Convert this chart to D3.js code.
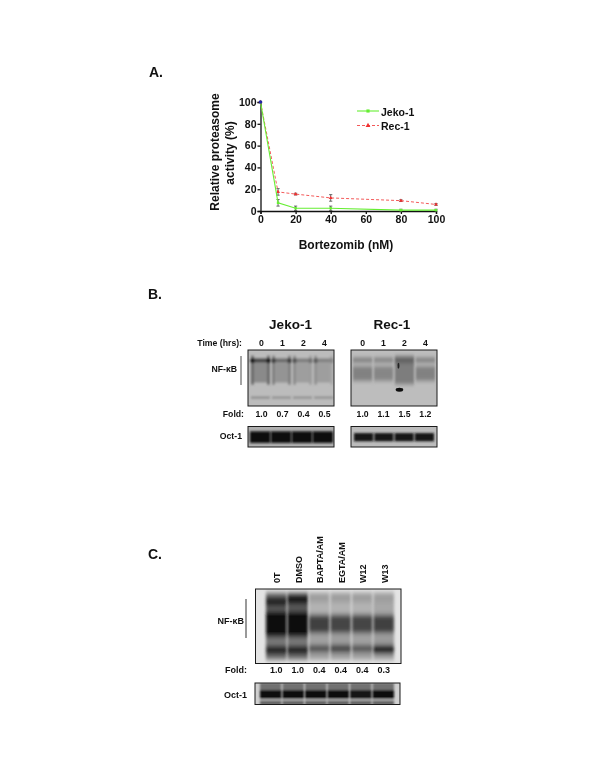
<!DOCTYPE html>
<html><head><meta charset="utf-8">
<script src="https://cdn.jsdelivr.net/npm/d3@7"></script>
<style>html,body{margin:0;background:#fff}svg{display:block;filter:blur(0.3px)}text{font-family:"Liberation Sans",Arial,sans-serif;font-weight:bold;fill:#111}</style>
</head><body><svg id="c" width="600" height="776"></svg>
<script>
// ---- Panel A data
const doses=[0,10,20,40,80,100];
const jeko=[100,7.5,2.5,2.5,0.8,0.8];
const jekoErr=[0,3,2,2,0.8,0.8];
const rec=[100,17.5,15.5,12,9.5,6];
const recErr=[0,3,0.8,3,0.8,0.8];
const xTicks=[0,20,40,60,80,100];
const yTicks=[0,20,40,60,80,100];
// ---- Blot labels
const timeLanes=["0","1","2","4"];
const foldJeko=["1.0","0.7","0.4","0.5"];
const foldRec=["1.0","1.1","1.5","1.2"];
const treatments=["0T","DMSO","BAPTA/AM","EGTA/AM","W12","W13"];
const foldC=["1.0","1.0","0.4","0.4","0.4","0.3"];
// ---- Bands per lane [position in blot 0-1, thickness 0-1, darkness 0-1]
const jekoBands=[
 [[.36,.44,.38],[.19,.06,.72],[.85,.04,.36]],
 [[.36,.44,.33],[.19,.05,.55],[.85,.04,.34]],
 [[.36,.44,.28],[.19,.05,.45],[.85,.04,.34]],
 [[.36,.44,.28],[.19,.05,.42],[.85,.04,.34]]];
const jekoEdges=[[.95,.95],[.75,.75],[.65,.5],[.6,.4]];
const recBands=[
 [[.42,.26,.42],[.18,.07,.5]],
 [[.42,.26,.4],[.18,.07,.48]],
 [[.36,.5,.44],[.18,.08,.62]],
 [[.42,.26,.42],[.18,.07,.5]]];
const octJeko=[1,1,1,1];
const octRec=[.95,.95,.95,.95];
const cBands=[
 [[.5,.9,.5],[.17,.13,.88],[.28,.07,.58],[.47,.34,1],[.71,.07,.45],[.82,.11,.92]],
 [[.5,.9,.5],[.14,.13,.94],[.25,.07,.62],[.47,.34,1],[.71,.07,.45],[.82,.11,.92]],
 [[.5,.9,.28],[.25,.14,.18],[.47,.24,.74],[.69,.09,.26],[.8,.09,.68]],
 [[.5,.9,.28],[.25,.14,.18],[.47,.24,.72],[.69,.09,.28],[.8,.1,.74]],
 [[.5,.9,.28],[.25,.14,.18],[.47,.24,.72],[.69,.09,.26],[.8,.09,.66]],
 [[.5,.9,.28],[.25,.14,.24],[.47,.24,.74],[.69,.09,.3],[.81,.11,1]]];
const octC=[1,1,.97,.97,.95,1];

const svg=d3.select("#c");
const defs=svg.append("defs");
[["f05","0.7"],["fJ","0.9 1.3"],["fR","1.1 2"],["fC","1.5 2.6"],["fO","1 1.2"],["fOC","0.8 0.9"]].forEach(([id,s])=>defs.append("filter").attr("id",id)
  .attr("filterUnits","userSpaceOnUse").attr("x",0).attr("y",0).attr("width",600).attr("height",776)
  .append("feGaussianBlur").attr("stdDeviation",s));
const ink=d=>d3.interpolateRgb("#d8d8d8","#0a0a0a")(d);
function label(x,y,t,size,anchor="middle",rot=0){
  const e=svg.append("text").attr("font-size",size).attr("text-anchor",anchor).text(t);
  return rot?e.attr("transform",`translate(${x},${y}) rotate(${rot})`):e.attr("x",x).attr("y",y);
}

// Panel A
label(149,77,"A.",14,"start");
const x=d3.scaleLinear().domain([0,100]).range([260.5,436]);
const y=d3.scaleLinear().domain([0,100]).range([211,102]);
const ax=svg.append("g").attr("transform","translate(0,211)").call(d3.axisBottom(x).tickValues(xTicks).tickSize(3).tickPadding(2));
const ay=svg.append("g").attr("transform","translate(260.5,0)").call(d3.axisLeft(y).tickValues(yTicks).tickSize(3).tickPadding(1));
[ax,ay].forEach(g=>{g.selectAll("path,line").attr("stroke","#111").attr("stroke-width",1.3);g.selectAll("text").attr("font-size",10.5);g.attr("font-family",null)});
label(219,152,"Relative proteasome",12,"middle",-90);
label(234,153,"activity (%)",12,"middle",-90);
label(346,249,"Bortezomib (nM)",12);
const line=d3.line().x((d,i)=>x(doses[i])).y(d=>y(d));
const series=[{v:rec,e:recErr,c:"#f03030",dash:"3,2"},{v:jeko,e:jekoErr,c:"#66ee33",dash:null}];
series.forEach(s=>{
  const g=svg.append("g");
  g.selectAll("path.err").data(s.v).join("path").attr("fill","none").attr("stroke","#444").attr("stroke-width",.8)
   .attr("d",(d,i)=>{const X=x(doses[i]),a=y(d-s.e[i]),b=y(d+s.e[i]);return s.e[i]?`M${X-1.6},${a}H${X+1.6}M${X-1.6},${b}H${X+1.6}M${X},${a}V${b}`:""});
  g.append("path").attr("d",line(s.v)).attr("fill","none").attr("stroke",s.c).attr("stroke-width",s.dash?.8:1.1).attr("stroke-dasharray",s.dash);
  const sym=d3.symbol().type(s.dash?d3.symbolTriangle:d3.symbolSquare).size(6);
  g.selectAll("path.m").data(s.v).join("path").attr("fill",s.c).attr("d",sym).attr("transform",(d,i)=>`translate(${x(doses[i])},${y(d)})`);
});
svg.append("circle").attr("cx",x(0)).attr("cy",y(100)).attr("r",1.8).attr("fill","#2222aa");
// legend
[[111,"Jeko-1",series[1]],[125.5,"Rec-1",series[0]]].forEach(([ly,t,s])=>{
  svg.append("line").attr("x1",357).attr("x2",379).attr("y1",ly).attr("y2",ly).attr("stroke",s.c).attr("stroke-width",s.dash?.8:1.1).attr("stroke-dasharray",s.dash);
  svg.append("path").attr("d",d3.symbol().type(s.dash?d3.symbolTriangle:d3.symbolSquare).size(10)()).attr("fill",s.c).attr("transform",`translate(368,${ly})`);
  label(381,ly+4.5,t,10.5,"start");
});

// Blot helper: all bands of a lane are composited, then the lane is blurred as one
let uid=0;
function blot(b){
  const id="clip"+(++uid);
  defs.append("clipPath").attr("id",id).append("rect").attr("x",b.x0).attr("y",b.y0).attr("width",b.x1-b.x0).attr("height",b.y1-b.y0);
  const yy=d3.scaleLinear().domain([0,1]).range([b.y0,b.y1]);
  const lane=d3.scaleBand().domain(d3.range(b.lanes.length)).range([b.lx0,b.lx1]).paddingInner(b.gap);
  const g=svg.append("g").attr("clip-path",`url(#${id})`);
  g.append("rect").attr("x",b.x0).attr("y",b.y0).attr("width",b.x1-b.x0).attr("height",b.y1-b.y0).attr("fill",b.bg);
  b.lanes.forEach((bands,i)=>{
    const lg=g.append("g").attr("filter",`url(#${b.blur})`);
    lg.selectAll("rect").data(bands).join("rect")
      .attr("x",lane(i)).attr("width",lane.bandwidth())
      .attr("y",d=>yy(d[0]-d[1]/2)).attr("height",d=>yy(d[1])-yy(0))
      .attr("fill",d=>ink(d[2]));
    if(b.laneExtra) b.laneExtra(lg,lane,yy,i);
  });
  if(b.extra) b.extra(g,lane,yy);
  svg.append("rect").attr("x",b.x0).attr("y",b.y0).attr("width",b.x1-b.x0).attr("height",b.y1-b.y0).attr("fill","none").attr("stroke","#1a1a1a").attr("stroke-width",1);
  return lane;
}
const centers=(lane)=>i=>lane(i)+lane.bandwidth()/2;

// Panel B
label(148,299,"B.",14,"start");
label(290.5,328.5,"Jeko-1",13.5);
label(392,328.5,"Rec-1",13.5);
label(242,346,"Time (hrs):",8.7,"end");
const lJ=blot({x0:248,x1:334,y0:350,y1:406,lx0:251,lx1:333,gap:.1,bg:"#bcbcbc",lanes:jekoBands,blur:"fJ",
  laneExtra:(lg,lane,yy,i)=>{
    jekoEdges[i].forEach((k,side)=>{
      const ex=lane(i)+(side?lane.bandwidth()-1.5:1.5);
      lg.append("rect").attr("x",ex-1.2).attr("width",2.4).attr("y",yy(.1)).attr("height",yy(.62)-yy(.1)).attr("fill",ink(k*.58));
      lg.append("ellipse").attr("cx",ex).attr("cy",yy(.19)).attr("rx",2.2).attr("ry",2.6).attr("fill",ink(k));
    });
  }});
const lR=blot({x0:351,x1:437,y0:350,y1:406,lx0:353,lx1:435,gap:.08,bg:"#bdbdbd",lanes:recBands,blur:"fR",
  extra:(g,lane,yy)=>{
    const mx=lane(2)+lane.bandwidth()/2;
    g.append("ellipse").attr("cx",mx-5).attr("cy",yy(.71)).attr("rx",3.8).attr("ry",1.9).attr("fill","#0a0a0a").attr("filter","url(#f05)");
    g.append("ellipse").attr("cx",mx-6).attr("cy",yy(.28)).attr("rx",1).attr("ry",3).attr("fill","#222").attr("filter","url(#f05)");
  }});
blot({x0:248,x1:334,y0:426.5,y1:447,lx0:250,lx1:333,gap:.02,bg:"#b0b0b0",lanes:octJeko.map(k=>[[.52,.56,k]]),blur:"fO"});
blot({x0:351,x1:437,y0:426.5,y1:447,lx0:354,lx1:434,gap:.05,bg:"#bcbcbc",lanes:octRec.map(k=>[[.52,.4,k]]),blur:"fO"});
const cJ=centers(lJ),cR=centers(lR);
timeLanes.forEach((t,i)=>{label(cJ(i)+1,346,t,8.7);label(cR(i),346,t,8.7);});
foldJeko.forEach((t,i)=>label(cJ(i)+1,417,t,8.7));
foldRec.forEach((t,i)=>label(cR(i),417,t,8.7));
label(237,372,"NF-κB",8.7,"end");
svg.append("line").attr("x1",241).attr("x2",241).attr("y1",356).attr("y2",385).attr("stroke","#333").attr("stroke-width",.9);
label(244,417,"Fold:",8.7,"end");
label(242,439,"Oct-1",8.7,"end");

// Panel C
label(148,559,"C.",14,"start");
const lC=blot({x0:255.5,x1:401,y0:589,y1:663.5,lx0:266,lx1:394,gap:.04,bg:"#e4e4e4",lanes:cBands,blur:"fC"});
blot({x0:255,x1:400,y0:683,y1:704.5,lx0:260,lx1:394,gap:.05,bg:"#d0d0d0",
  lanes:octC.map(k=>[[.5,1,.5],[.54,.42,k],[.78,.08,.12],[.93,.16,.6]]),blur:"fOC"});
const cC=centers(lC);
treatments.forEach((t,i)=>label(cC(i)+4,583,t,9,"start",-90));
foldC.forEach((t,i)=>label(cC(i),673,t,9));
label(244,624,"NF-κB",9,"end");
svg.append("line").attr("x1",246).attr("x2",246).attr("y1",599).attr("y2",638).attr("stroke","#555").attr("stroke-width",1.2);
label(247,673,"Fold:",9,"end");
label(247,698,"Oct-1",9,"end");
</script></body></html>
